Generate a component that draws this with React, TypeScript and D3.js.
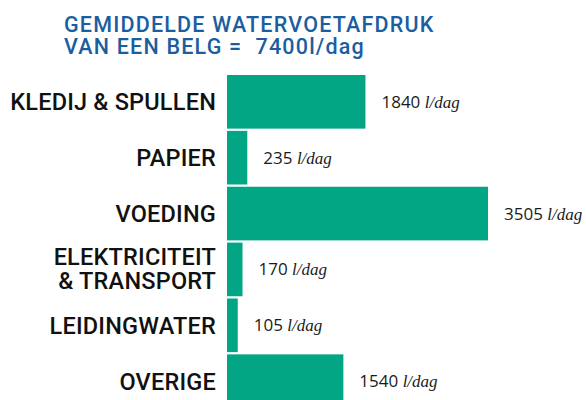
import React from "react";
import * as d3 from "d3";

// categories as shown, second line for the two-line label
const categories = ["KLEDIJ & SPULLEN", "PAPIER", "VOEDING", "ELEKTRICITEIT", "LEIDINGWATER", "OVERIGE"];
const categoryLines = [["KLEDIJ & SPULLEN"], ["PAPIER"], ["VOEDING"], ["ELEKTRICITEIT", "& TRANSPORT"], ["LEIDINGWATER"], ["OVERIGE"]];
const values = [1840, 235, 3505, 170, 105, 1540];
const titleLines = ["GEMIDDELDE WATERVOETAFDRUK", "VAN EEN BELG =\u00a0 7400l/dag"];
const unit = "l/dag";

const W = 586;
const H = 400;
const barLeft = 227;

export default function App() {
    const y = d3.scaleBand<string>()
        .domain(categories)
        .range([75, 408])
        .paddingInner(0.04);
    const x = d3.scaleLinear()
        .domain([0, d3.max(values) as number])
        .range([3, 261]);

    const labelFont = "Roboto, 'DejaVu Sans', sans-serif";

    return (
        <svg width={W} height={H} style={{position: "absolute", left: 0, top: 0}}>
            <rect width={W} height={H} fill="white" />
            <g fill="#1b5e9f" fontFamily={labelFont} fontWeight={500} fontSize={21.5} letterSpacing={1.2}>
                {titleLines.map((t, i) => (
                    <text key={i} x={64} y={32 + i * 21.5}>{t}</text>
                ))}
            </g>
            {categories.map((c, i) => {
                const cy = (y(c) as number) + y.bandwidth() / 2;
                const lines = categoryLines[i];
                const w = x(values[i]);
                return (
                    <g key={c}>
                        <rect x={barLeft} y={y(c)} width={w} height={y.bandwidth()} fill="#02a584" />
                        <text textAnchor="end" fontFamily={labelFont} fontWeight={500}
                            fontSize={23.5} letterSpacing={0.2} fill="#111">
                            {lines.map((l, j) => (
                                <tspan key={j} x={216}
                                    y={lines.length > 1 ? cy - 4 + j * 24 : cy + 8.5}>{l}</tspan>
                            ))}
                        </text>
                        <text x={barLeft + w + 16} y={cy + 6} fontSize={17} fill="#1a1a1a"
                            fontFamily="'Open Sans', sans-serif">
                            {values[i] + " "}
                            <tspan fontFamily="'Liberation Serif', serif" fontStyle="italic" fontSize={17}>{unit}</tspan>
                        </text>
                    </g>
                );
            })}
        </svg>
    );
}
